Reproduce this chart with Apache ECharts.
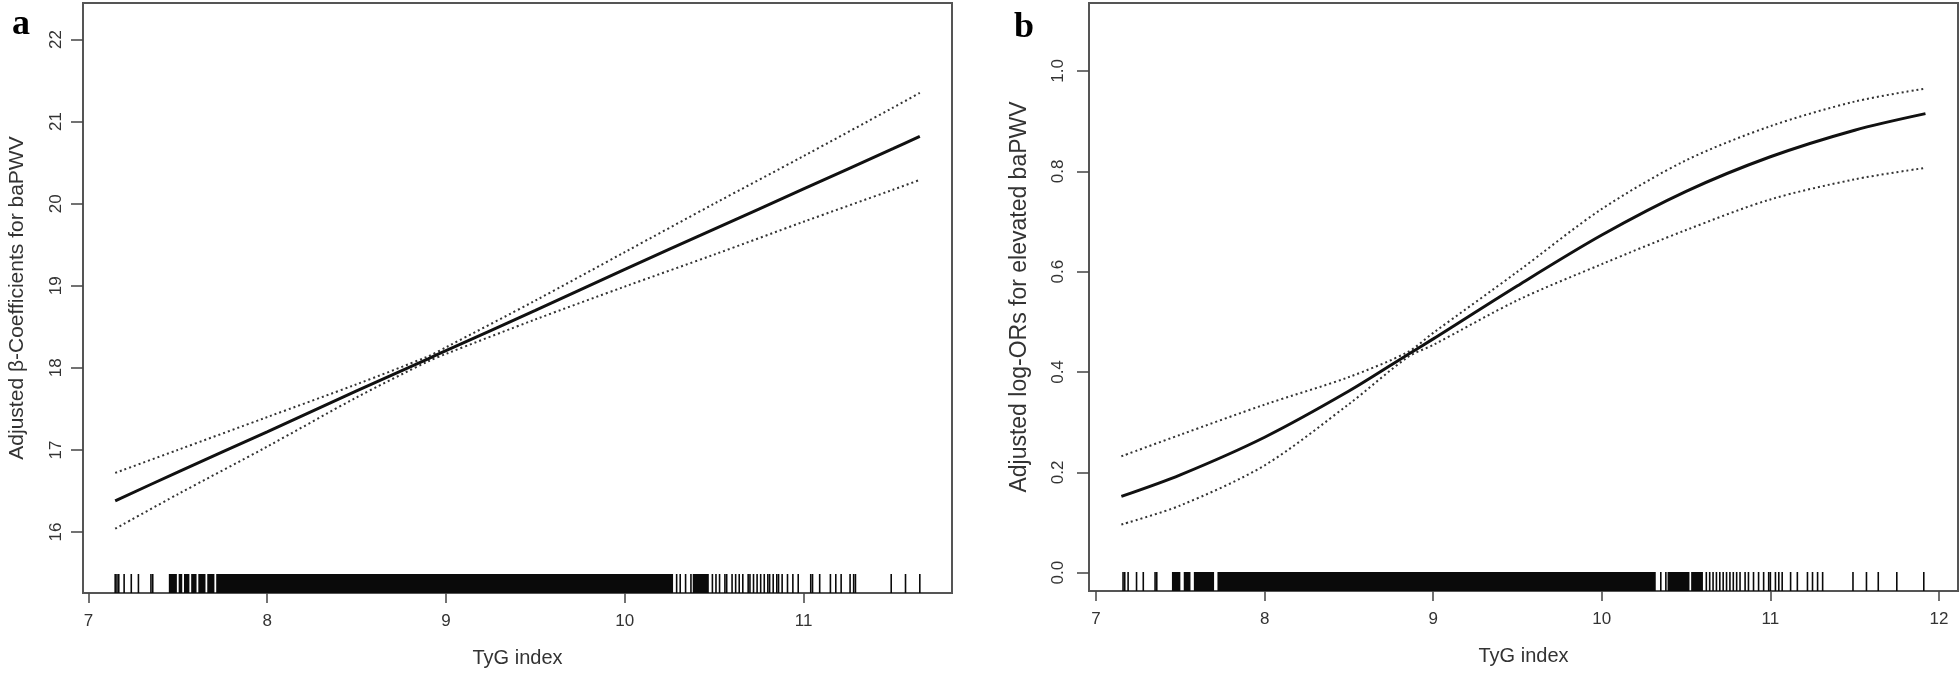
<!DOCTYPE html>
<html>
<head>
<meta charset="utf-8">
<script src="https://cdn.jsdelivr.net/npm/echarts@6/dist/echarts.min.js"></script>
<style>html,body{margin:0;padding:0;background:#fff;}#c{width:1960px;height:680px;}</style>
</head>
<body>
<div id="c"></div>
<script>
// ---------- Panel a: adjusted beta-coefficients ----------
const aX     = [7.15, 7.5, 8, 8.5, 8.9, 9, 9.5, 10, 10.5, 11, 11.5, 11.65];
const aFit   = [16.38, 16.73, 17.22, 17.72, 18.11, 18.21, 18.70, 19.20, 19.69, 20.18, 20.67, 20.82];
const aUpper = [16.72, 17.00, 17.40, 17.80, 18.14, 18.25, 18.82, 19.41, 20.00, 20.58, 21.17, 21.35];
const aLower = [16.04, 16.46, 17.04, 17.64, 18.08, 18.17, 18.59, 18.99, 19.38, 19.78, 20.17, 20.29];
const aXTicks = [7, 8, 9, 10, 11];
const aYTicks = [16, 17, 18, 19, 20, 21, 22];
const aRugBands = [[7.45,7.495],[7.505,7.525],[7.535,7.565],[7.575,7.605],[7.615,7.655],[7.665,7.705],[7.715,10.27],[10.38,10.47]];
const aRugTicks = [7.15,7.16,7.17,7.20,7.24,7.28,7.35,7.36,10.29,10.31,10.34,10.37,10.49,10.51,10.53,10.56,10.57,10.60,10.62,10.64,10.66,10.69,10.70,10.72,10.74,10.76,10.78,10.80,10.81,10.83,10.85,10.86,10.88,10.91,10.94,10.97,11.04,11.05,11.09,11.15,11.18,11.21,11.26,11.28,11.29,11.49,11.57,11.65];

// ---------- Panel b: adjusted log-ORs ----------
const bX     = [7.15, 7.5, 8, 8.5, 8.85, 9, 9.5, 10, 10.5, 11, 11.5, 11.92];
const bFit   = [0.152, 0.195, 0.27, 0.362, 0.435, 0.466, 0.572, 0.673, 0.76, 0.829, 0.882, 0.915];
const bUpper = [0.232, 0.275, 0.335, 0.39, 0.44, 0.478, 0.60, 0.725, 0.822, 0.89, 0.939, 0.965];
const bLower = [0.096, 0.134, 0.214, 0.336, 0.43, 0.454, 0.543, 0.615, 0.683, 0.744, 0.784, 0.807];
const bXTicks = [7, 8, 9, 10, 11, 12];
const bYTicks = [0, 0.2, 0.4, 0.6, 0.8, 1.0];
const bRugBands = [[7.45,7.50],[7.52,7.56],[7.58,7.70],[7.72,10.32],[10.39,10.52],[10.53,10.60]];
const bRugTicks = [7.16,7.17,7.19,7.24,7.28,7.35,7.36,10.35,10.38,10.62,10.64,10.66,10.68,10.70,10.72,10.74,10.76,10.78,10.80,10.82,10.85,10.87,10.90,10.93,10.96,10.99,11.0,11.03,11.05,11.07,11.12,11.16,11.22,11.25,11.28,11.31,11.49,11.57,11.64,11.75,11.91];

const xTitle = 'TyG index';
const aYTitle = 'Adjusted β-Coefficients for baPWV';
const bYTitle = 'Adjusted log-ORs for elevated baPWV';

const FONT = "'Liberation Sans Narrow', 'Liberation Sans', Arial, sans-serif";
const TXT = '#333';
const RUG_H = 19;

const aRange = { xmin: 6.97, xmax: 11.83, ymin: 15.257, ymax: 22.445 };
const bRange = { xmin: 6.958, xmax: 12.113, ymin: -0.0365, ymax: 1.1355 };

function xAxis(gi, r, ticks) {
  return {
    type: 'value', gridIndex: gi, min: r.xmin, max: r.xmax,
    axisLine: { show: false, onZero: false }, splitLine: { show: false },
    axisTick: { show: true, length: 10, customValues: ticks, lineStyle: { color: '#444', width: 1.5 } },
    axisLabel: { customValues: ticks, margin: 20, fontSize: 17, fontFamily: FONT, color: TXT },
    name: xTitle, nameLocation: 'middle', nameGap: 55,
    nameTextStyle: { fontSize: 20, fontFamily: FONT, color: TXT }
  };
}
function yAxis(gi, r, ticks, title, fmt, margin, gap, titleSize) {
  return {
    type: 'value', gridIndex: gi, min: r.ymin, max: r.ymax,
    axisLine: { show: false, onZero: false }, splitLine: { show: false },
    axisTick: { show: true, length: 12, customValues: ticks, lineStyle: { color: '#444', width: 1.5 } },
    axisLabel: { customValues: ticks, rotate: 90, margin: margin, fontSize: 17, fontFamily: FONT, color: TXT,
      formatter: fmt },
    name: title, nameLocation: 'middle', nameGap: gap,
    nameTextStyle: { fontSize: titleSize, fontFamily: FONT, color: TXT }
  };
}
function lineSeries(gi, xs, ys, solid) {
  return {
    type: 'line', xAxisIndex: gi, yAxisIndex: gi, data: xs.map((x, i) => [x, ys[i]]),
    showSymbol: false, smooth: 0.3, silent: true,
    lineStyle: solid ? { color: '#111', width: 3 } : { color: '#333', width: 2, type: [2, 3] }
  };
}
function rugSeries(gi, r, bands, ticks) {
  const data = bands.map(b => [b[0], b[1]]).concat(ticks.map(t => [t, t]));
  return {
    type: 'custom', xAxisIndex: gi, yAxisIndex: gi, data: data, silent: true, clip: true,
    renderItem: function (params, api) {
      const p0 = api.coord([api.value(0), r.ymin]);
      const p1 = api.coord([api.value(1), r.ymin]);
      let w = p1[0] - p0[0];
      let x = p0[0];
      if (w < 1.6) { x = x - 0.8; w = 1.6; }
      return { type: 'rect', shape: { x: x, y: p0[1] - RUG_H, width: w, height: RUG_H }, style: { fill: '#0a0a0a' } };
    }
  };
}

const chart = echarts.init(document.getElementById('c'));
chart.setOption({
  animation: false,
  backgroundColor: '#fff',
  grid: [
    { left: 83, top: 3, width: 869, height: 590, show: true, borderColor: '#555', borderWidth: 2, backgroundColor: 'transparent' },
    { left: 1089, top: 3, width: 869, height: 588, show: true, borderColor: '#555', borderWidth: 2, backgroundColor: 'transparent' }
  ],
  xAxis: [xAxis(0, aRange, aXTicks), xAxis(1, bRange, bXTicks)],
  yAxis: [
    yAxis(0, aRange, aYTicks, aYTitle, v => String(Math.round(v)), 18, 55, 21),
    yAxis(1, bRange, bYTicks, bYTitle, v => v.toFixed(1), 22, 58, 23)
  ],
  graphic: [
    { type: 'text', left: 12, top: 7, style: { text: 'a', font: "bold 36px 'Liberation Serif', 'Times New Roman', serif", fill: '#000' } },
    { type: 'text', left: 1014, top: 10, style: { text: 'b', font: "bold 36px 'Liberation Serif', 'Times New Roman', serif", fill: '#000' } }
  ],
  series: [
    rugSeries(0, aRange, aRugBands, aRugTicks),
    lineSeries(0, aX, aUpper, false),
    lineSeries(0, aX, aLower, false),
    lineSeries(0, aX, aFit, true),
    rugSeries(1, bRange, bRugBands, bRugTicks),
    lineSeries(1, bX, bUpper, false),
    lineSeries(1, bX, bLower, false),
    lineSeries(1, bX, bFit, true)
  ]
});
</script>
</body>
</html>
